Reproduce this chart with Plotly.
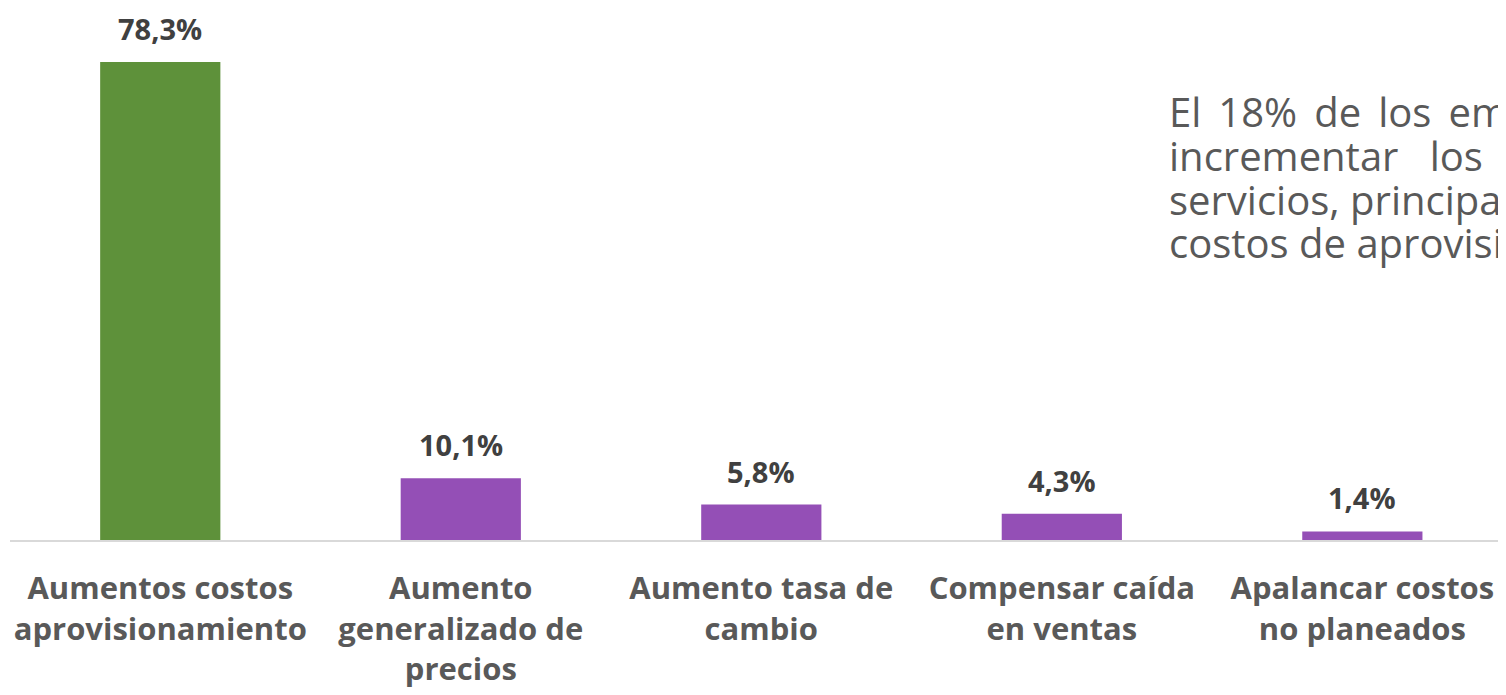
import plotly.graph_objects as go

categories = [
    "Aumentos costos<br>aprovisionamiento",
    "Aumento<br>generalizado de<br>precios",
    "Aumento tasa de<br>cambio",
    "Compensar caída<br>en ventas",
    "Apalancar costos<br>no planeados",
]
values = [78.3, 10.1, 5.8, 4.3, 1.4]
labels = ["78,3%", "10,1%", "5,8%", "4,3%", "1,4%"]
colors = ["#5E913A", "#944FB6", "#944FB6", "#944FB6", "#944FB6"]

SP = "\u00a0"
WIDE = "\u00a0\u2009"  # stretched gap of a justified line
note_lines = [
    WIDE.join(["El", "18%", "de", "los", "empresarios", "planea"]),
    "incrementar" + SP * 3 + "los" + SP * 3 + "precios" + SP * 3 + "de" + SP * 3 + "sus",
    "servicios, principalmente por aumentos en los",
    "costos de aprovisionamiento.",
]

FONT = "'Open Sans', sans-serif"

fig = go.Figure()
fig.add_trace(go.Bar(
    x=categories,
    y=values,
    marker=dict(color=colors, line=dict(width=0)),
    width=0.4,
    hoverinfo="skip",
))

# data labels above bars
for c, v, t in zip(categories, values, labels):
    fig.add_annotation(
        x=c, y=v, text=f"<b>{t}</b>", showarrow=False,
        yanchor="bottom", yshift=12,
        font=dict(family=FONT, size=29, color="#404040"),
    )

# side text box (justified, clipped on the right in the original)
for i, line in enumerate(note_lines):
    fig.add_annotation(
        xref="paper", yref="paper", x=0.7734, y=1 - (103 + 44 * i) / 532,
        text=line, showarrow=False, xanchor="left", yanchor="middle",
        font=dict(family=FONT, size=40, color="#595959"),
    )

# page body has an 8px margin, so the figure is offset by 8px
fig.update_layout(
    width=1498, height=687,
    margin=dict(l=2, r=0, t=0, b=155),
    plot_bgcolor="white", paper_bgcolor="white",
    showlegend=False,
)
fig.update_xaxes(
    range=[-0.5, 4.478],
    showline=True, linecolor="#D9D9D9", linewidth=2,
    ticks="", showgrid=False,
    tickfont=dict(family=FONT, size=31, color="#595959"),
    ticklabelstandoff=20,
    tickprefix="<b>", ticksuffix="</b>",
)
fig.update_yaxes(range=[0, 87.14], visible=False, showgrid=False, zeroline=False)

fig.write_html("out.html")
